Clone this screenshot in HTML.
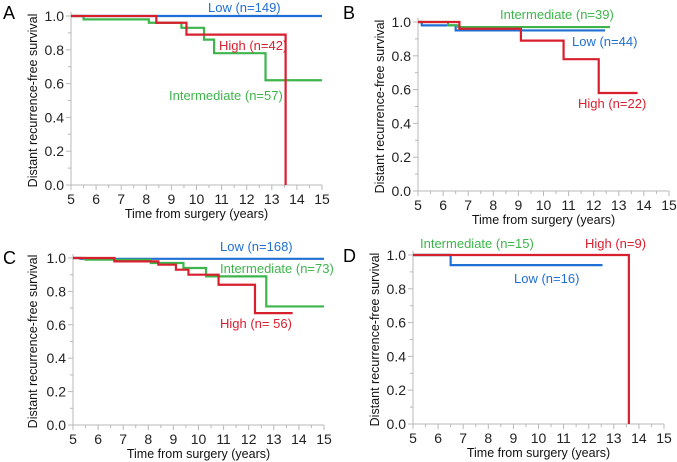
<!DOCTYPE html>
<html><head><meta charset="utf-8"><style>
html,body{margin:0;padding:0;background:#fff;}
svg{display:block;font-family:"Liberation Sans",sans-serif;}
</style></head><body>
<svg id="fig" width="677" height="462" viewBox="0 0 677 462"></svg>
<script>
const xTicks=[5,6,7,8,9,10,11,12,13,14,15];
const yTicks=[0,0.2,0.4,0.6,0.8,1.0];
const yTickLabels=["0.0","0.2","0.4","0.6","0.8","1.0"];
// Panel A
const aLowT=[5,15], aLowS=[1.0,1.0];
const aHighT=[5,8.4,9.6,13.55,13.55], aHighS=[1.0,0.96,0.89,0.0,0.0];
const aIntT=[5,5.5,8.1,9.4,10.3,10.7,12.75,15], aIntS=[1.0,0.98,0.96,0.93,0.86,0.78,0.62,0.62];
// Panel B
const bLowT=[5,5.15,6.5,12.45], bLowS=[1.0,0.98,0.95,0.95];
const bIntT=[5,6.2,6.6,12.65], bIntS=[1.0,0.98,0.97,0.97];
const bHighT=[5,6.65,9.1,10.8,12.2,13.75], bHighS=[1.0,0.96,0.89,0.78,0.58,0.58];
// Panel C
const cLowT=[5,5.3,15], cLowS=[1.0,0.995,0.995];
const cIntT=[5,5.5,8.1,9.4,10.3,12.7,15], cIntS=[1.0,0.99,0.97,0.94,0.89,0.71,0.71];
const cHighT=[5,6.65,8.4,9.1,9.6,10.8,12.25,13.75], cHighS=[1.0,0.98,0.96,0.93,0.9,0.84,0.67,0.67];
// Panel D
const dLowT=[5,6.5,12.55], dLowS=[1.0,0.94,0.94];
const dIntT=[5,6.5], dIntS=[1.0,1.0];
const dHighT=[5,13.6,13.6], dHighS=[1.0,0.0,0.0];

const BLUE="#1f6fd4",RED="#d81f2e",GREEN="#3db54b",AX="#b8b8b8";
const svg=document.getElementById('fig');
const NS="http://www.w3.org/2000/svg";
function mk(tag,attrs,parent){const e=document.createElementNS(NS,tag);for(const k in attrs)e.setAttribute(k,attrs[k]);(parent||svg).appendChild(e);return e;}

function panel(p){
  const g=mk('g',{});
  
  
  const sx=v=>p.x0+(v-5)/10*(p.x1-p.x0);
  const sy=v=>p.y0+(1-v)*(p.y1-p.y0);
  // axes
  const ax=mk('path',{d:`M${p.x0} ${p.y0-4}V${p.y1}H${p.x1}`,stroke:AX,'stroke-width':1,fill:'none'},g);
  
  
  for(let i=0;i<=20;i++){const v=5+i*0.5;const len=i%2?3:5;
    mk('line',{x1:sx(v),x2:sx(v),y1:p.y1,y2:p.y1+len,stroke:AX},g);}
  for(let i=0;i<=10;i++){const v=i*0.1;const len=i%2?3:5;
    mk('line',{x1:p.x0-len,x2:p.x0,y1:sy(v),y2:sy(v),stroke:AX},g);}
  xTicks.forEach(v=>{const t=mk('text',{x:sx(v),y:p.y1+19,'text-anchor':'middle','font-size':14,fill:'#222'},g);t.textContent=v;
    
    });
  yTicks.forEach((v,i)=>{const t=mk('text',{x:p.x0-7,y:sy(v)+5,'text-anchor':'end','font-size':14,fill:'#222'},g);t.textContent=yTickLabels[i];
    
    });
  const xt=mk('text',{x:(p.x0+p.x1)/2,y:p.y1+33,'text-anchor':'middle','font-size':12.5,fill:'#111'},g);xt.textContent='Time from surgery (years)';
  
  
  const yc=(p.y0+p.y1)/2;
  const yt=mk('text',{x:p.ytx,y:yc,'text-anchor':'middle','font-size':12.5,fill:'#111',transform:`rotate(-90 ${p.ytx} ${yc})`},g);yt.textContent='Distant recurrence-free survival';
  
  
  const pl=mk('text',{x:p.lx,y:p.ly,'font-size':18,fill:'#000'},g);pl.textContent=p.id;
  
  
  p.series.forEach(s=>{
    let d=`M${sx(s.t[0])} ${sy(s.s[0])}`;
    for(let i=1;i<s.t.length;i++){d+=`H${sx(s.t[i])}V${sy(s.s[i])}`;}
    const path=mk('path',{d:d,stroke:s.c,'stroke-width':2.2,fill:'none'},g);
    
    
  });
  p.labels.forEach(l=>{const t=mk('text',{x:l[1],y:l[2],'font-size':13,fill:l[3]},g);t.textContent=l[0];
    
    });
}
panel({id:'A',x0:71,x1:322,y0:16,y1:185,ytx:37,lx:3,ly:19,
  series:[{t:aIntT,s:aIntS,c:GREEN,name:'intermediate-curve'},{t:aLowT,s:aLowS,c:BLUE,name:'low-curve'},{t:aHighT,s:aHighS,c:RED,name:'high-curve'}],
  labels:[['Low (n=149)',208,12,BLUE],['High (n=42)',219,50,RED],['Intermediate (n=57)',169,100,GREEN]]});
panel({id:'B',x0:418,x1:669,y0:22,y1:191,ytx:384,lx:343,ly:19,
  series:[{t:bLowT,s:bLowS,c:BLUE,name:'low-curve'},{t:bIntT,s:bIntS,c:GREEN,name:'intermediate-curve'},{t:bHighT,s:bHighS,c:RED,name:'high-curve'}],
  labels:[['Intermediate (n=39)',500,19,GREEN],['Low (n=44)',572,46,BLUE],['High (n=22)',578,108,RED]]});
panel({id:'C',x0:73,x1:324,y0:258,y1:425,ytx:37,lx:3,ly:264,
  series:[{t:cLowT,s:cLowS,c:BLUE,name:'low-curve'},{t:cIntT,s:cIntS,c:GREEN,name:'intermediate-curve'},{t:cHighT,s:cHighS,c:RED,name:'high-curve'}],
  labels:[['Low (n=168)',220,251,BLUE],['Intermediate (n=73)',220,273,GREEN],['High (n= 56)',220,328,RED]]});
panel({id:'D',x0:413,x1:664,y0:255,y1:424,ytx:379,lx:343,ly:262,
  series:[{t:dIntT,s:dIntS,c:GREEN,name:'intermediate-curve'},{t:dLowT,s:dLowS,c:BLUE,name:'low-curve'},{t:dHighT,s:dHighS,c:RED,name:'high-curve'}],
  labels:[['Intermediate (n=15)',420,248,GREEN],['High (n=9)',585,248,RED],['Low (n=16)',514,283,BLUE]]});
</script>
</body></html>
